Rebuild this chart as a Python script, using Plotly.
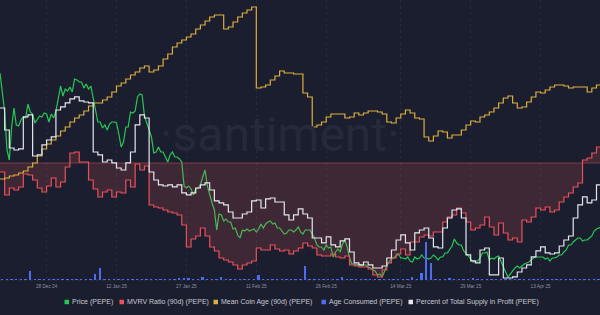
import pandas as pd
import plotly.graph_objects as go

START = "2024-12-18"
days = pd.date_range(START, periods=130, freq="D")
price_times = pd.date_range(START, periods=259, freq="12h")

# Price (PEPE), units of 1e-8 USD, 12h samples
price_e8 = [
    1615, 1520, 1420, 1230, 1180, 1345, 1440, 1355, 1350, 1380, 1395, 1390, 1460, 1420, 1410, 1365,
    1385, 1400, 1395, 1415, 1410, 1370, 1410, 1390, 1425, 1495, 1550, 1500, 1535, 1525, 1545, 1520,
    1585, 1580, 1570, 1570, 1540, 1560, 1535, 1550, 1485, 1420, 1370, 1370, 1340, 1355, 1330, 1360,
    1370, 1370, 1365, 1310, 1245, 1270, 1345, 1345, 1420, 1415, 1425, 1495, 1510, 1505, 1400, 1365,
    1330, 1295, 1215, 1220, 1245, 1220, 1220, 1190, 1170, 1205, 1220, 1195, 1195, 1185, 1170, 1050,
    1040, 1050, 1035, 1005, 1035, 1040, 1055, 1095, 1130, 1050, 1000, 965, 930, 830, 910, 905,
    875, 885, 870, 870, 835, 840, 805, 790, 830, 825, 835, 825, 830, 835, 820, 835,
    860, 840, 860, 870, 875, 860, 865, 840, 840, 825, 810, 815, 830, 830, 820, 830,
    845, 820, 810, 830, 830, 830, 810, 790, 755, 745, 745, 730, 755, 740, 745, 695,
    720, 735, 720, 760, 780, 745, 690, 660, 660, 655, 660, 650, 655, 655, 645, 640,
    630, 625, 605, 610, 595, 625, 650, 670, 685, 690, 700, 710, 690, 690, 685, 695,
    675, 670, 695, 685, 690, 705, 690, 690, 685, 690, 705, 695, 680, 695, 695, 715,
    715, 730, 750, 785, 765, 755, 755, 725, 715, 700, 685, 670, 675, 675, 690, 715,
    715, 720, 680, 690, 685, 695, 700, 670, 640, 620, 595, 610, 630, 640, 650, 640,
    650, 660, 665, 670, 680, 690, 695, 695, 695, 695, 685, 690, 675, 690, 690, 695,
    705, 705, 720, 730, 755, 755, 770, 780, 790, 790, 775, 780, 780, 790, 800, 825,
    835, 840, 845,
]

# MVRV Ratio (90d), in thousandths
mvrv_milli = [
    973, 904, 925, 919, 928, 967, 964, 949, 925, 913, 931, 955, 928, 943, 988, 1030,
    1033, 1003, 1003, 949, 922, 898, 913, 919, 898, 913, 910, 949, 928, 997, 979, 991,
    874, 868, 865, 859, 853, 850, 844, 814, 748, 772, 781, 805, 781, 748, 736, 715,
    709, 703, 694, 682, 694, 700, 706, 745, 739, 739, 754, 742, 736, 739, 727, 736,
    745, 760, 751, 745, 724, 721, 721, 727, 718, 715, 721, 694, 691, 688, 688, 682,
    664, 658, 679, 700, 715, 727, 742, 724, 763, 763, 778, 784, 781, 793, 793, 823,
    838, 844, 865, 850, 823, 799, 805, 814, 838, 808, 784, 820, 790, 769, 775, 763,
    829, 823, 838, 865, 859, 868, 853, 859, 883, 898, 910, 928, 940, 1009, 1015, 1030,
    1048, 1054,
]

# Mean Coin Age (90d), days
coin_age_days = [
    30.1, 30.2, 30.4, 30.5, 30.7, 30.9, 31.3, 31.7, 32.4, 33.1, 33.6, 34.0, 34.4, 34.9, 35.3, 35.8,
    36.2, 36.5, 36.9, 37.4, 37.7, 37.7, 38.0, 38.3, 38.8, 39.4, 39.7, 40.1, 40.5, 40.8, 41.2, 41.4,
    40.8, 41.0, 41.4, 42.1, 42.6, 43.3, 43.7, 44.0, 44.3, 44.6, 45.1, 45.5, 45.9, 46.3, 46.5, 46.5,
    45.1, 45.3, 45.8, 46.3, 46.7, 47.0, 47.3, 39.2, 39.3, 39.5, 40.0, 40.4, 40.9, 40.7, 40.7, 40.6,
    40.6, 38.7, 38.3, 35.3, 35.5, 35.8, 36.3, 36.6, 36.6, 36.6, 36.2, 36.3, 36.7, 36.5, 36.7, 36.9,
    36.9, 36.8, 36.6, 35.8, 35.7, 36.2, 36.6, 37.0, 36.7, 36.2, 36.1, 34.3, 33.9, 34.4, 34.9, 34.8,
    34.2, 34.5, 34.5, 35.0, 35.5, 35.9, 35.8, 36.3, 36.5, 36.8, 37.2, 37.7, 38.2, 38.4, 37.7, 37.2,
    37.3, 37.8, 38.3, 38.8, 38.7, 39.0, 39.3, 39.5, 39.5, 39.4, 39.2, 39.3, 39.3, 39.3, 38.8, 39.2,
    39.5, 39.7,
]

# Age Consumed (PEPE), trillions
age_consumed = [
    0.05, 0.05, 0.05, 0.05, 0.05, 0.05, 0.9, 0.05, 0.1, 0.05, 0.05, 0.05, 0.05, 0.05, 0.05, 0.05,
    0.05, 0.05, 0.05, 0.05, 0.6, 1.2, 0.05, 0.05, 0.05, 0.05, 0.05, 0.05, 0.05, 0.1, 0.05, 0.1,
    0.05, 0.05, 0.05, 0.05, 0.05, 0.05, 0.2, 0.2, 0.15, 0.05, 0.05, 0.3, 0.05, 0.05, 0.05, 0.3,
    0.1, 0.05, 0.05, 0.05, 0.05, 0.05, 0.05, 0.5, 0.05, 0.05, 0.05, 0.05, 0.05, 0.05, 0.05, 0.05,
    0.05, 1.4, 0.05, 0.05, 0.05, 0.05, 0.05, 0.05, 0.05, 0.3, 0.05, 0.05, 0.05, 0.05, 0.05, 0.05,
    0.05, 0.05, 0.05, 0.05, 0.05, 0.05, 0.05, 0.05, 0.3, 0.05, 0.7, 3.8, 1.7, 0.05, 0.05, 0.05,
    0.2, 0.05, 0.05, 0.05, 0.05, 0.2, 0.05, 0.05, 0.05, 0.05, 0.1, 0.05, 0.05, 0.05, 0.05, 0.05,
    0.05, 0.05, 0.05, 0.05, 0.05, 0.05, 0.05, 0.05, 0.05, 0.05, 0.05, 0.05, 0.05, 0.1, 0.05, 0.05,
    0.05, 0.05,
]

# Percent of Total Supply in Profit, %
supply_in_profit_pct = [
    63.0, 57.5, 53.0, 52.5, 52.8, 60.8, 61.3, 51.0, 51.3, 53.8, 55.0, 55.8, 62.5, 63.3, 64.3, 65.3,
    65.8, 64.8, 64.5, 64.3, 52.0, 51.3, 49.5, 50.0, 49.3, 48.0, 47.5, 49.3, 52.0, 58.8, 61.3, 60.5,
    47.0, 45.0, 43.8, 43.5, 43.8, 43.3, 43.8, 41.8, 41.3, 41.8, 43.0, 43.8, 44.3, 42.5, 39.8, 39.3,
    38.8, 37.0, 35.5, 35.5, 36.5, 37.0, 39.8, 40.0, 38.0, 40.3, 40.5, 39.5, 39.5, 36.3, 35.0, 36.3,
    37.8, 36.5, 35.5, 30.5, 30.5, 29.3, 30.8, 28.8, 28.3, 29.8, 30.3, 27.0, 24.3, 23.8, 24.5, 23.8,
    23.0, 23.0, 23.5, 25.5, 27.5, 30.0, 31.3, 29.3, 27.5, 31.8, 32.5, 33.0, 30.5, 28.3, 28.0, 33.0,
    35.5, 37.5, 37.8, 35.5, 26.3, 24.8, 24.3, 27.5, 28.0, 21.3, 21.3, 25.5, 20.5, 20.5, 20.8, 22.0,
    23.0, 23.8, 25.8, 27.3, 28.3, 26.8, 26.5, 26.8, 28.5, 30.0, 31.0, 35.5, 38.8, 40.8, 39.3, 40.0,
    43.8, 45.0,
]

tick_dates = ["2024-12-28", "2025-01-12", "2025-01-27", "2025-02-11",
              "2025-02-26", "2025-03-14", "2025-03-29", "2025-04-13"]
tick_labels = ["28 Dec 24", "12 Jan 25", "27 Jan 25", "11 Feb 25",
               "26 Feb 25", "14 Mar 25", "29 Mar 25", "13 Apr 25"]

legend_items = ["Price (PEPE)", "MVRV Ratio (90d) (PEPE)", "Mean Coin Age (90d) (PEPE)",
                "Age Consumed (PEPE)", "Percent of Total Supply in Profit (PEPE)"]

BG = "#1b1e2e"
GREEN = "#26c953"
RED = "#eb4f58"
YELLOW = "#dcae3e"
BLUE = "#4c6cf2"
WHITE = "#e4e6ee"
legend_colors = [GREEN, RED, YELLOW, BLUE, WHITE]

price = [v * 1e-8 for v in price_e8]
mvrv = [v / 1000 for v in mvrv_milli]

fig = go.Figure()
fig.add_trace(go.Bar(x=days + pd.Timedelta(hours=12), y=age_consumed, yaxis="y4",
                     marker=dict(color=BLUE, line=dict(width=0)), width=0.4 * 86400000,
                     name=legend_items[3]))
fig.add_trace(go.Scatter(x=days, y=[1.0] * len(days), yaxis="y2", mode="lines",
                         line=dict(color="rgba(225,90,100,0.45)", width=1), hoverinfo="skip"))
fig.add_trace(go.Scatter(x=days, y=mvrv, yaxis="y2", mode="lines", name=legend_items[1],
                         line=dict(color=RED, width=1.2, shape="hv"),
                         fill="tonexty", fillcolor="rgba(255,91,91,0.16)"))
fig.add_trace(go.Scatter(x=days, y=coin_age_days, yaxis="y3", mode="lines", name=legend_items[2],
                         line=dict(color=YELLOW, width=1.2, shape="hv")))
fig.add_trace(go.Scatter(x=days, y=supply_in_profit_pct, yaxis="y5", mode="lines",
                         name=legend_items[4], line=dict(color=WHITE, width=1.2, shape="hv")))
fig.add_trace(go.Scatter(x=price_times, y=price, yaxis="y", mode="lines", name=legend_items[0],
                         line=dict(color=GREEN, width=1.2)))

H_PLOT = 280.0

shapes = [dict(type="line", xref="paper", yref="paper", x0=0, x1=1, y0=0, y1=0,
               line=dict(color="#2f3448", width=1, dash="dot"), layer="below")]
annotations = [dict(text="·santiment·", xref="paper", yref="paper", x=280 / 600, y=(H_PLOT - 134) / H_PLOT,
                    xanchor="center", yanchor="middle", showarrow=False,
                    font=dict(family="Roboto", size=48, color="#252a3b"))]

sq_left = [64.5, 119.5, 213.5, 321.5, 408.5]
ly = (H_PLOT - 302) / H_PLOT
for name, col, xl in zip(legend_items, legend_colors, sq_left):
    shapes.append(dict(type="rect", xref="paper", yref="paper",
                       x0=xl / 600, x1=(xl + 4.5) / 600,
                       y0=ly - 2.25 / H_PLOT, y1=ly + 2.25 / H_PLOT,
                       fillcolor=col, line=dict(width=0)))
    annotations.append(dict(text=name, xref="paper", yref="paper", x=(xl + 5.5) / 600, y=ly,
                            xanchor="left", yanchor="middle", showarrow=False,
                            font=dict(family="Liberation Sans", size=7, color="#c6c9d3")))

fig.update_layout(
    width=600, height=315, margin=dict(l=0, r=0, t=0, b=35),
    paper_bgcolor=BG, plot_bgcolor=BG, showlegend=False, bargap=0,
    xaxis=dict(range=["2024-12-18 00:00", "2025-04-25 18:00"], tickvals=tick_dates, ticktext=tick_labels,
               tickfont=dict(family="Liberation Sans", size=4.7, color="#8d92a3"),
               showgrid=True, gridcolor="#252a3b", griddash="dot", gridwidth=1,
               zeroline=False, showline=False, ticks="", ticklabelstandoff=2),
    yaxis=dict(range=[580e-8, 1980e-8], visible=False, showgrid=False),
    yaxis2=dict(range=[0.649, 1.489], overlaying="y", visible=False),
    yaxis3=dict(range=[20, 48], overlaying="y", visible=False),
    yaxis4=dict(range=[0, 28], overlaying="y", visible=False),
    yaxis5=dict(range=[20, 90], overlaying="y", visible=False),
    shapes=shapes, annotations=annotations,
)

fig.write_html("out.html")
